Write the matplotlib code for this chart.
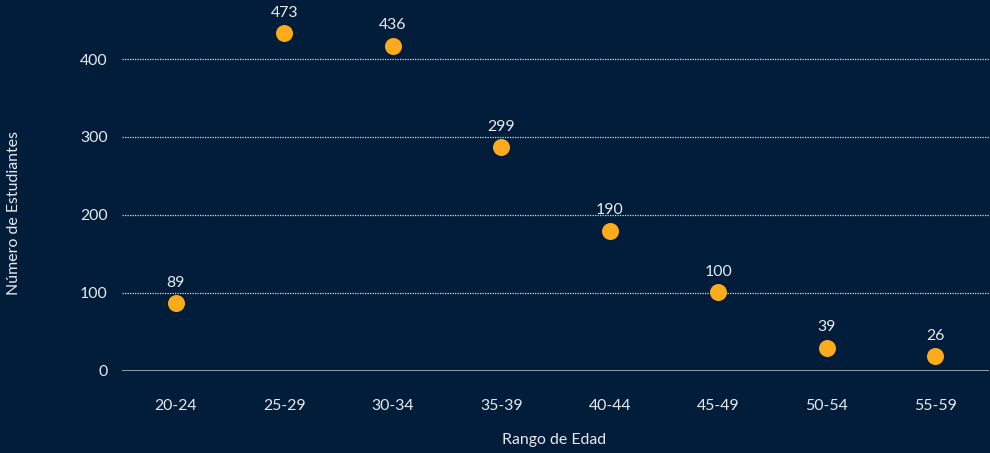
import matplotlib
matplotlib.use("Agg")
import matplotlib.pyplot as plt

plt.rcParams['font.family'] = ['Lato', 'DejaVu Sans']

age_ranges = ["20-24", "25-29", "30-34", "35-39", "40-44", "45-49", "50-54", "55-59"]
# where the dots sit in the picture
dot_values = [87, 433, 417, 287, 180, 101, 30, 19]
# the numbers written above them
label_values = [89, 473, 436, 299, 190, 100, 39, 26]
y_ticks = [0, 100, 200, 300, 400]

BG = '#021d3a'
DOT = '#fbab1c'
TXT = '#e6eaee'
FS = 11.4

fig = plt.figure(figsize=(9.9, 4.53), dpi=100, facecolor=BG)
ax = fig.add_axes([121.5 / 990, 1 - 371 / 453, 868 / 990, 371 / 453])
ax.set_facecolor(BG)

x = list(range(len(age_ranges)))
ax.scatter(x, dot_values, s=150, color=DOT, zorder=3, linewidths=0)
for xi, yi, lab in zip(x, dot_values, label_values):
    ax.annotate(str(lab), (xi, yi), xytext=(0, 14.8), textcoords='offset points',
                ha='center', va='center', color=TXT, fontsize=FS)

ax.set_xlim(-0.5, len(age_ranges) - 0.5)
ax.set_ylim(0, 371 / 0.78)
ax.set_xticks(x)
ax.set_xticklabels(age_ranges)
ax.set_yticks(y_ticks)
ax.tick_params(length=0, colors=TXT, labelsize=FS)
ax.tick_params(axis='x', pad=20)
ax.tick_params(axis='y', pad=10)

# dotted grid, solid baseline
for t in y_ticks[1:]:
    ax.axhline(t, color='#d8dde3', linestyle=(0, (1, 1)), linewidth=0.9, zorder=1)
ax.axhline(0, color='#aab4bf', linewidth=1.2, zorder=1)

for s in ax.spines.values():
    s.set_visible(False)

fig.text(554 / 990, 1 - 440 / 453, "Rango de Edad", ha='center', va='center', color=TXT, fontsize=FS)
fig.text(14 / 990, 1 - 213 / 453, "Número de Estudiantes", ha='center', va='center',
         rotation=90, color=TXT, fontsize=FS)

fig.savefig("out.png", dpi=100, facecolor=BG)
